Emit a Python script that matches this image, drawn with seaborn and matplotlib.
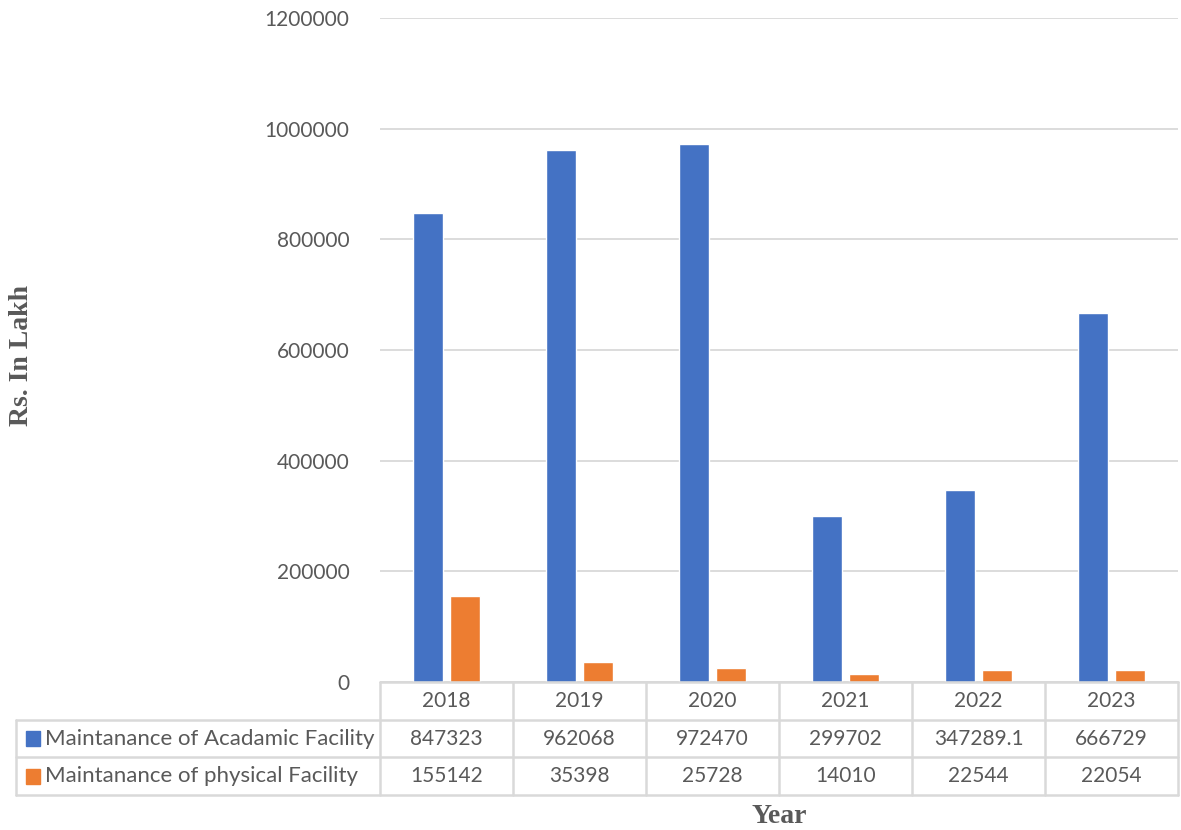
import matplotlib
matplotlib.use("Agg")
import matplotlib.pyplot as plt
from matplotlib.patches import Rectangle
import seaborn as sns
import pandas as pd

years = ["2018", "2019", "2020", "2021", "2022", "2023"]
series_names = ["Maintanance of Acadamic Facility", "Maintanance of physical Facility"]
academic = [847323, 962068, 972470, 299702, 347289.1, 666729]
physical = [155142, 35398, 25728, 14010, 22544, 22054]
colors = ["#4472C4", "#ED7D31"]
y_ticks = [0, 200000, 400000, 600000, 800000, 1000000, 1200000]

text_color = "#595959"
line_color = "#D9D9D9"


def fmt(v):
    return str(int(v)) if float(v).is_integer() else str(v)


df = pd.DataFrame({
    "Year": years * 2,
    "Series": [series_names[0]] * len(years) + [series_names[1]] * len(years),
    "Value": academic + physical,
})

sns.set_theme(style="white")
plt.rcParams["font.family"] = ["Lato", "DejaVu Sans"]

W, H = 1181, 830
fig = plt.figure(figsize=(W / 100, H / 100), dpi=100)

# plot area in pixels: x 380..1178, y 18..682
ax = fig.add_axes([380 / W, 1 - 682 / H, (1178 - 380) / W, (682 - 18) / H])
sns.barplot(data=df, x="Year", y="Value", hue="Series", palette=colors,
            width=0.56, gap=0.19, ax=ax, legend=False, saturation=1)
ax.set_ylim(0, 1200000)
ax.set_xlim(-0.5, len(years) - 0.5)
ax.set_yticks(y_ticks)
ax.set_yticklabels([str(t) for t in y_ticks])
ax.yaxis.grid(True, color=line_color, linewidth=1.3)
ax.set_axisbelow(True)
for s in ax.spines.values():
    s.set_visible(False)
ax.tick_params(axis="y", length=0, pad=22, labelsize=15, labelcolor=text_color)
ax.set_xticks([])
ax.set_xlabel("")
ax.set_ylabel("")

# data table below the plot, px x 16..1178, y 682..795
col_px = (1178 - 380) / len(years)
x0 = -0.5 - (380 - 16) / col_px
tab = fig.add_axes([16 / W, 1 - 795 / H, (1178 - 16) / W, (795 - 682) / H])
tab.set_xlim(x0, len(years) - 0.5)
tab.set_ylim(3, 0)
tab.axis("off")

lw = 1.8
tab.plot([-0.5, len(years) - 0.5], [0, 0], color=line_color, lw=lw, clip_on=False)
for r in [1, 2, 3]:
    tab.plot([x0, len(years) - 0.5], [r, r], color=line_color, lw=lw, clip_on=False)
tab.plot([x0, x0], [1, 3], color=line_color, lw=lw, clip_on=False)
for k in range(len(years) + 1):
    tab.plot([k - 0.5, k - 0.5], [0, 3], color=line_color, lw=lw, clip_on=False)

for i, y in enumerate(years):
    tab.text(i, 0.5, y, ha="center", va="center", fontsize=15, color=text_color)
    tab.text(i, 1.5, fmt(academic[i]), ha="center", va="center", fontsize=15, color=text_color)
    tab.text(i, 2.5, fmt(physical[i]), ha="center", va="center", fontsize=15, color=text_color)

key_w = 14 / col_px
for r, (name, c) in enumerate(zip(series_names, colors)):
    kx = x0 + 10 / col_px
    tab.add_patch(Rectangle((kx, r + 1.5 - 0.2), key_w, 0.4, color=c, clip_on=False))
    tab.text(kx + key_w + 5 / col_px, r + 1.5, name, ha="left", va="center",
             fontsize=16, color=text_color)

fig.text(779 / W, 1 - 816 / H, "Year", ha="center", va="center", fontsize=20,
         fontweight="bold", family="Liberation Serif", color=text_color)
fig.text(22 / W, 1 - 355 / H, "Rs. In Lakh", ha="center", va="center", fontsize=20,
         fontweight="bold", family="Liberation Serif", color=text_color, rotation=90)

fig.savefig("out.png", dpi=100)
